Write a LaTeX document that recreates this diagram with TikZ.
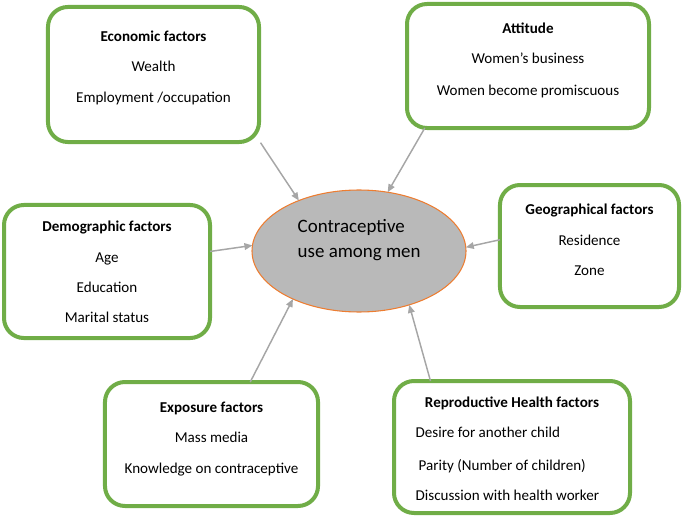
\documentclass[tikz,border=0pt]{standalone}
\usepackage{fontspec}
\setmainfont{Carlito}
\usepackage{tikz}
\usetikzlibrary{positioning,shapes.geometric,arrows.meta}
\definecolor{frame-green}{RGB}{112,173,71}
\definecolor{link-gray}{RGB}{166,166,166}
\definecolor{core-gray}{RGB}{185,185,185}
\definecolor{core-orange}{RGB}{237,125,49}

\begin{document}
\begin{tikzpicture}[x=0.75pt,y=-0.75pt,
    factor/.style={draw=frame-green, line width=3pt, rounded corners=15pt, fill=white, inner sep=0pt, outer sep=0pt},
    head/.style={anchor=base, font=\fontsize{11.3}{13}\selectfont\bfseries},
    item/.style={anchor=base, font=\fontsize{11.3}{13}\selectfont},
    link/.style={draw=link-gray, line width=1.1pt, -{Triangle[length=6pt,width=5pt]}}]
    \useasboundingbox (0,0) rectangle (682,517);

    % centre
    \node[ellipse, draw=core-orange, line width=0.8pt, fill=core-gray, minimum width=160.5pt, minimum height=91.5pt, inner sep=0pt, outer sep=0pt] (core) at (359,251) {};
    \node[anchor=base west, font=\fontsize{14.2}{17}\selectfont] (coreA) at (293,232) {Contraceptive};
    \node[anchor=base west, font=\fontsize{14.2}{17}\selectfont] (coreB) at (293,257) {use among men};

    % economic
    \node[factor, minimum width=158.3pt, minimum height=101.3pt] (econ) at (153.5,74.5) {};
    \node[head] (econT) at (153.5,42) {Economic factors};
    \node[item] (econA) at (153.5,72) {Wealth};
    \node[item] (econB) at (153.5,103) {Employment /occupation};

    % attitude
    \node[factor, minimum width=181.5pt, minimum height=93pt] (att) at (528,66) {};
    \node[head] (attT) at (528,34) {Attitude};
    \node[item] (attA) at (528,64) {Women’s business};
    \node[item] (attB) at (528,95) {Women become promiscuous};

    % demographic
    \node[factor, minimum width=154.5pt, minimum height=99.8pt] (demo) at (107,271.5) {};
    \node[head] (demoT) at (107,231) {Demographic factors};
    \node[item] (demoA) at (107,262) {Age};
    \node[item] (demoB) at (107,292) {Education};
    \node[item] (demoC) at (107,322) {Marital status};

    % geographical
    \node[factor, minimum width=134.3pt, minimum height=91.5pt] (geo) at (589.5,246) {};
    \node[head] (geoT) at (589.5,214) {Geographical factors};
    \node[item] (geoA) at (589.5,245) {Residence};
    \node[item] (geoB) at (589.5,275) {Zone};

    % exposure
    \node[factor, minimum width=159.8pt, minimum height=93pt] (expo) at (211.5,444) {};
    \node[head] (expoT) at (211.5,412) {Exposure factors};
    \node[item] (expoA) at (211.5,442) {Mass media};
    \node[item] (expoB) at (211.5,473) {Knowledge on contraceptive};

    % reproductive health
    \node[factor, minimum width=177pt, minimum height=99pt] (repro) at (512,447) {};
    \node[head] (reproT) at (512,407) {Reproductive Health factors};
    \node[item, anchor=base west] (reproA) at (411,437) {Desire for another child};
    \node[item, anchor=base west] (reproB) at (414,470) {Parity (Number of children)};
    \node[item, anchor=base west] (reproC) at (411,500) {Discussion with health worker};

    \draw[link, shorten <=2pt] (econ.-32) -- (core.140);
    \draw[link] (att.-149.6) -- (core.64.6);
    \draw[link] (demo.11.6) -- (core.177.4);
    \draw[link] (geo.176.9) -- (core.2.7);
    \draw[link] (expo.58.1) -- (core.216.9);
    \draw[link] (repro.141.3) -- (core.-47.8);
\end{tikzpicture}
\end{document}
